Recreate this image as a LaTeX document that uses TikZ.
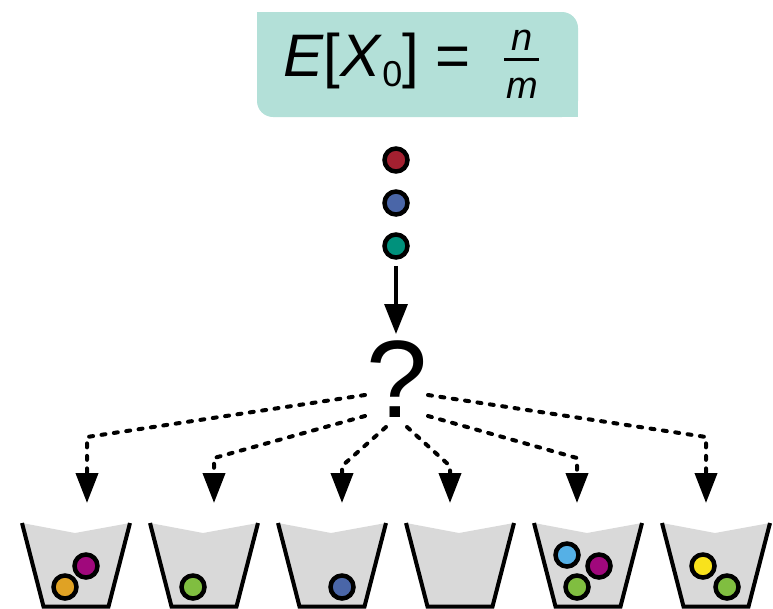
\documentclass[tikz,border=0pt]{standalone}
\usepackage{fontspec}
\setmainfont{Liberation Sans}
\usetikzlibrary{arrows.meta}
\definecolor{boxcol}{HTML}{B3E0D8}
\definecolor{bred}{HTML}{A32030}
\definecolor{bblue}{HTML}{4A66A8}
\definecolor{bteal}{HTML}{00917C}
\definecolor{bmag}{HTML}{A0087C}
\definecolor{borange}{HTML}{E0A224}
\definecolor{bgreen}{HTML}{80BE40}
\definecolor{bsky}{HTML}{55B0E6}
\definecolor{byellow}{HTML}{F8E21C}
\definecolor{bucketgray}{HTML}{D9D9D9}
\begin{document}
\begin{tikzpicture}[x=1pt,y=-1pt,
  ball/.style={circle, draw=black, line width=4.5pt, minimum size=23pt, inner sep=0pt, fill=#1},
  dots/.style={line width=4pt, line cap=round, dash pattern=on 4pt off 8.5pt, -{Triangle[length=30pt,width=22pt]}},
  solidarrow/.style={line width=3.2pt, -{Triangle[length=30pt,width=23pt]}},
  bucketline/.style={line width=4pt, line join=miter},
]
\useasboundingbox (0,0) rectangle (773,608);
% formula box
\fill[boxcol, rounded corners=16pt] (257,12) rectangle (578,117);
\fill[boxcol] (257,12) rectangle (320,60);
\fill[boxcol] (520,70) rectangle (578,117);
\node[anchor=base west, inner sep=0pt, font=\fontsize{60}{60}\selectfont] (lhs) at (283,76)
  {\textit{E}[\textit{X}\raisebox{-10pt}{\fontsize{36}{36}\selectfont 0}]\ =};
\node[anchor=base, inner sep=0pt, font=\fontsize{38}{38}\selectfont\itshape] (num) at (522,50) {n};
\node[anchor=base, inner sep=0pt, font=\fontsize{38}{38}\selectfont\itshape] (den) at (522,98) {m};
\draw[line width=3pt] (504,59) -- (539,59);
% balls
\node[ball=bred] (b1) at (396,160) {};
\node[ball=bblue] (b2) at (396,203) {};
\node[ball=bteal] (b3) at (396,246) {};
% question mark
\node[anchor=base, inner sep=0pt, font=\fontsize{110}{110}\selectfont] (q) at (397,417) {?};
\coordinate (qtop) at (396,334);
\draw[solidarrow, shorten <=6pt] (b3) -- (qtop);
% buckets
\foreach \c in {76,204,332,460,588,716}{
  \fill[bucketgray] (\c-54,523) -- (\c-1,533) -- (\c+54,523) -- (\c+32.5,606.5) -- (\c-32.5,606.5) -- cycle;
  \draw[bucketline] (\c-54,523) -- (\c-32.5,606.5) -- (\c+32.5,606.5) -- (\c+54,523);
}
% dotted connectors
\coordinate (s1) at (365,395);
\coordinate (s2) at (365,416);
\coordinate (s3) at (386,427);
\coordinate (s4) at (407,427);
\coordinate (s5) at (428,416);
\coordinate (s6) at (428,395);
\coordinate (t1) at (87,503);
\coordinate (t2) at (214,503);
\coordinate (t3) at (342,503);
\coordinate (t4) at (450,503);
\coordinate (t5) at (577,503);
\coordinate (t6) at (706,503);
\draw[dots] (s1) -- (t1 |- 0,437) -- (t1);
\draw[dots] (s2) -- (t2 |- 0,458) -- (t2);
\draw[dots] (s3) -- (t3 |- 0,466) -- (t3);
\draw[dots] (s4) -- (t4 |- 0,466) -- (t4);
\draw[dots] (s5) -- (t5 |- 0,458) -- (t5);
\draw[dots] (s6) -- (t6 |- 0,437) -- (t6);
% balls in buckets
\node[ball=borange] (k1b) at (65,587) {};
\node[ball=bmag] (k1a) at (86,566) {};
\node[ball=bgreen] (k2a) at (193,587) {};
\node[ball=bblue] (k3a) at (342,587) {};
\node[ball=bsky] (k5a) at (567,555) {};
\node[ball=bmag] (k5b) at (599,566) {};
\node[ball=bgreen] (k5c) at (577,587) {};
\node[ball=byellow] (k6a) at (703,566) {};
\node[ball=bgreen] (k6b) at (727,587) {};
\end{tikzpicture}
\end{document}
